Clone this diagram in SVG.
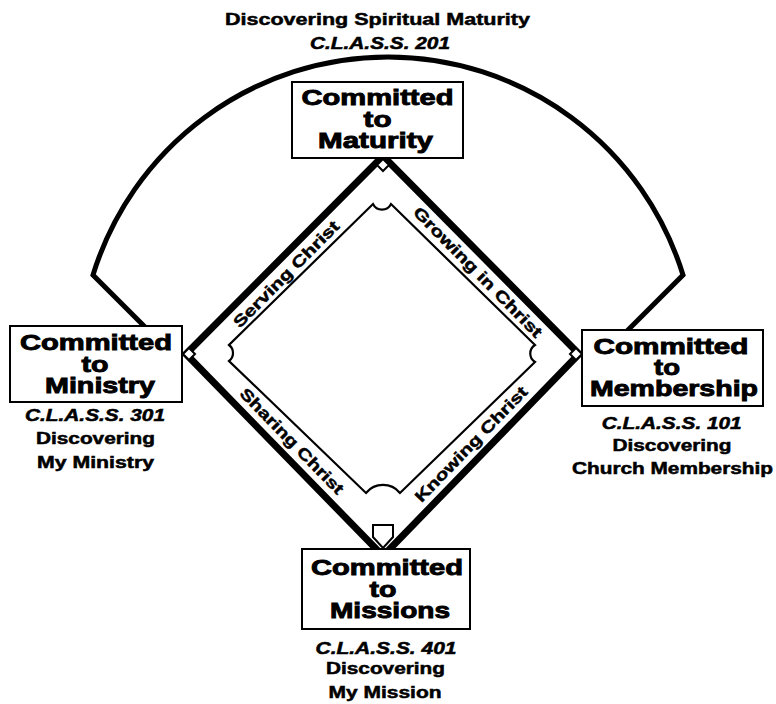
<svg xmlns="http://www.w3.org/2000/svg" width="776" height="704" viewBox="0 0 776 704">
<style>
.box{fill:#fff;stroke:#000;stroke-width:2}
.big{font-family:"Liberation Sans",Arial,sans-serif;font-weight:bold;font-size:22px;text-anchor:middle;fill:#000;stroke:#000;stroke-width:0.9}
.sub{font-family:"Liberation Sans",Arial,sans-serif;font-weight:bold;font-size:16px;text-anchor:middle;fill:#000;stroke:#000;stroke-width:0.5}
.cls{font-family:"Liberation Sans",Arial,sans-serif;font-weight:bold;font-style:italic;font-size:16px;text-anchor:middle;fill:#000;stroke:#000;stroke-width:0.5}
.lab{font-family:"Liberation Sans",Arial,sans-serif;font-weight:bold;font-size:16px;text-anchor:middle;fill:#000;stroke:#000;stroke-width:0.45}
.base{fill:#fff;stroke:#000;stroke-width:2}
</style>
<rect width="776" height="704" fill="#fff"/>

<g id="field">
  <path d="M150 332 L93 275 A308.6 308.6 0 0 1 683 275 L626 332" fill="none" stroke="#000" stroke-width="5" stroke-linejoin="miter"/>
  <path d="M373 204 A10 10 0 0 0 391 204 L535 345 A10 10 0 0 0 535 362 L400 493 A22 22 0 0 0 366 493 L229 361 A10 10 0 0 0 229 345 Z" fill="none" stroke="#000" stroke-width="2.2"/>
</g>

<g id="connectors">
  <polygon points="383,156 579,354 383,556 186,354" fill="none" stroke="#000" stroke-width="7" stroke-linejoin="miter" stroke-miterlimit="10"/>
</g>

<g id="labels">
  <text class="lab" transform="translate(286,274) rotate(-45.3)" x="0" y="5.7" textLength="143" lengthAdjust="spacingAndGlyphs">Serving Christ</text>
  <text class="lab" transform="translate(478,272) rotate(45.4)" x="0" y="5.7" textLength="176" lengthAdjust="spacingAndGlyphs">Growing in Christ</text>
  <text class="lab" transform="translate(292,441) rotate(45.7)" x="0" y="5.7" textLength="141" lengthAdjust="spacingAndGlyphs">Sharing Christ</text>
  <text class="lab" transform="translate(471,444) rotate(-45.9)" x="0" y="5.7" textLength="154" lengthAdjust="spacingAndGlyphs">Knowing Christ</text>
</g>

<g id="bases">
  <polygon class="base" points="383,159 389,165 383,171 377,165"/>
  <polygon class="base" points="189,348 195,354 189,360 183,354"/>
  <polygon class="base" points="576,348 582,354 576,360 570,354"/>
  <polygon class="base" points="373,525 393,525 393,537 383,548 373,537"/>
</g>

<g id="title">
  <text class="sub" x="377.5" y="25" textLength="305" lengthAdjust="spacingAndGlyphs" style="font-size:17px">Discovering Spiritual Maturity</text>
  <text class="cls" x="380" y="49" textLength="140" lengthAdjust="spacingAndGlyphs">C.L.A.S.S. 201</text>
</g>

<g id="node-maturity">
  <rect class="box" x="292" y="82" width="171" height="76"/>
  <text class="big"><tspan x="377.5" y="105" textLength="152" lengthAdjust="spacingAndGlyphs">Committed</tspan><tspan x="377.5" y="126.5" textLength="28" lengthAdjust="spacingAndGlyphs">to</tspan><tspan x="375.5" y="148" textLength="115" lengthAdjust="spacingAndGlyphs">Maturity</tspan></text>
</g>

<g id="node-ministry">
  <rect class="box" x="10" y="326" width="172" height="76"/>
  <text class="big"><tspan x="96" y="350" textLength="152" lengthAdjust="spacingAndGlyphs">Committed</tspan><tspan x="95" y="371.5" textLength="27" lengthAdjust="spacingAndGlyphs">to</tspan><tspan x="100" y="393" textLength="110" lengthAdjust="spacingAndGlyphs">Ministry</tspan></text>
  <text class="cls" x="95" y="421" textLength="140" lengthAdjust="spacingAndGlyphs">C.L.A.S.S. 301</text>
  <text class="sub" x="95.5" y="444" textLength="119" lengthAdjust="spacingAndGlyphs">Discovering</text>
  <text class="sub" x="95.5" y="468" textLength="117" lengthAdjust="spacingAndGlyphs">My Ministry</text>
</g>

<g id="node-membership">
  <rect class="box" x="582" y="330" width="181" height="76"/>
  <text class="big"><tspan x="671" y="353.5" textLength="155" lengthAdjust="spacingAndGlyphs">Committed</tspan><tspan x="667" y="374.5" textLength="26" lengthAdjust="spacingAndGlyphs">to</tspan><tspan x="674" y="395.5" textLength="168" lengthAdjust="spacingAndGlyphs">Membership</tspan></text>
  <text class="cls" x="671.7" y="428.5" textLength="140" lengthAdjust="spacingAndGlyphs">C.L.A.S.S. 101</text>
  <text class="sub" x="672" y="451" textLength="119" lengthAdjust="spacingAndGlyphs">Discovering</text>
  <text class="sub" x="672.5" y="474" textLength="201" lengthAdjust="spacingAndGlyphs">Church Membership</text>
</g>

<g id="node-missions">
  <rect class="box" x="302" y="549" width="168" height="80"/>
  <text class="big"><tspan x="387" y="575" textLength="152" lengthAdjust="spacingAndGlyphs">Committed</tspan><tspan x="383" y="596.5" textLength="27" lengthAdjust="spacingAndGlyphs">to</tspan><tspan x="390" y="618" textLength="120" lengthAdjust="spacingAndGlyphs">Missions</tspan></text>
  <text class="cls" x="386" y="653.5" textLength="141" lengthAdjust="spacingAndGlyphs">C.L.A.S.S. 401</text>
  <text class="sub" x="385.5" y="673.5" textLength="119" lengthAdjust="spacingAndGlyphs">Discovering</text>
  <text class="sub" x="385" y="698" textLength="113" lengthAdjust="spacingAndGlyphs">My Mission</text>
</g>
</svg>
